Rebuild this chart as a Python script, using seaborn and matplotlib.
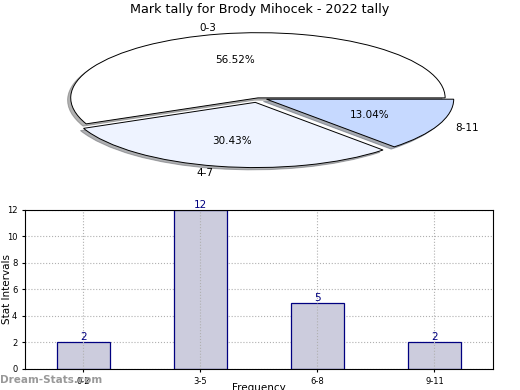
import matplotlib
matplotlib.use("Agg")
import matplotlib.pyplot as plt
import seaborn as sns
import pandas as pd

# pie data
pie_labels = ["0-3", "4-7", "8-11"]
pie_counts = [13, 7, 3]
pie_colors = ["#ffffff", "#eef3ff", "#c6d9ff"]

# bar data
bar_labels = ["0-2", "3-5", "6-8", "9-11"]
bar_values = [2, 12, 5, 2]

fig = plt.figure(figsize=(5.2, 3.9), dpi=100)
fig.text(0.5, 0.975, "Mark tally for Brody Mihocek - 2022 tally", ha="center", va="center", fontsize=9.2)

# pie (squashed to look tilted)
ax1 = fig.add_axes([0.046, 0.54, 0.9, 0.418])
wedges, texts, autotexts = ax1.pie(pie_counts, labels=pie_labels, colors=pie_colors,
                                   explode=[0, 0.07, 0.05], autopct="%.2f%%",
                                   shadow={"ox": -0.012, "oy": -0.025, "shade": 0.6},
                                   startangle=0, counterclock=True,
                                   wedgeprops={"edgecolor": "black", "linewidth": 0.7},
                                   textprops={"fontsize": 7.5})
ax1.set_aspect("auto")
ax1.set_xlim(-1.25, 1.25)
ax1.set_ylim(-1.25, 1.25)

# bar chart
ax2 = fig.add_axes([0.048, 0.054, 0.9, 0.408])
df = pd.DataFrame({"interval": bar_labels, "value": bar_values})
sns.barplot(data=df, x="interval", y="value", color="#ccccdd", edgecolor="#000080",
            linewidth=0.9, width=0.45, saturation=1, ax=ax2)
for i, v in enumerate(bar_values):
    ax2.text(i, v, str(v), ha="center", va="bottom", color="#000080", fontsize=7.5)
ax2.set_xlim(-0.5, 3.5)
ax2.set_ylim(0, 12)
ax2.set_yticks(range(0, 13, 2))
ax2.tick_params(axis="both", labelsize=6, length=2)
ax2.grid(True, linestyle=":", color="#b0b0b0", linewidth=0.8)
ax2.set_axisbelow(True)
ax2.xaxis.set_zorder(2.2)
for s in ax2.spines.values():
    s.set_zorder(3)
ax2.set_ylabel("Stat Intervals", fontsize=7.5)
ax2.set_xlabel("Frequency", fontsize=7.5)
ax2.yaxis.set_label_coords(-0.027, 0.5)
ax2.xaxis.set_label_coords(0.5, -0.09)

fig.text(0.0, 0.012, "Dream-Stats.com", color="#999999", fontsize=7.5, fontweight="bold", ha="left", va="bottom")

fig.savefig("out.png", dpi=100)
